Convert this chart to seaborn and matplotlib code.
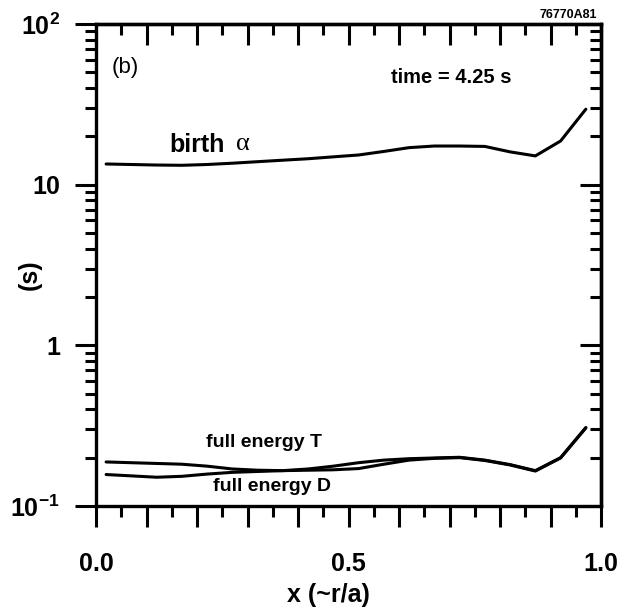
import numpy as np
import pandas as pd
import matplotlib
matplotlib.use("Agg")
import matplotlib.pyplot as plt
import seaborn as sns
from matplotlib.ticker import LogLocator, NullFormatter

# ---- data ----
x_pos = [0.02, 0.07, 0.12, 0.17, 0.22, 0.27, 0.32, 0.37, 0.42, 0.47,
         0.52, 0.57, 0.62, 0.67, 0.72, 0.77, 0.82, 0.87, 0.92, 0.97]
birth_alpha = [13.45, 13.35, 13.25, 13.2, 13.35, 13.6, 13.9, 14.2, 14.5, 14.9,
               15.3, 16.1, 17.0, 17.4, 17.4, 17.3, 16.0, 15.1, 18.7, 29.5]
full_energy_T = [0.188, 0.186, 0.184, 0.182, 0.177, 0.170, 0.167, 0.166, 0.170, 0.177,
                 0.186, 0.193, 0.197, 0.199, 0.201, 0.193, 0.181, 0.166, 0.200, 0.308]
full_energy_D = [0.157, 0.154, 0.151, 0.153, 0.158, 0.162, 0.164, 0.166, 0.167, 0.168,
                 0.171, 0.182, 0.193, 0.198, 0.200, 0.192, 0.180, 0.165, 0.199, 0.306]

x_major_ticks = [0.0, 0.1, 0.2, 0.3, 0.4, 0.5, 0.6, 0.7, 0.8, 0.9, 1.0]
x_minor_ticks = [0.05, 0.15, 0.25, 0.35, 0.45, 0.55, 0.65, 0.75, 0.85, 0.95]
x_labelled = {0.0: "0.0", 0.5: "0.5", 1.0: "1.0"}
y_major_ticks = [0.1, 1, 10, 100]
y_tick_labels = ["10$^{-1}$", "1", "10", "10$^{2}$"]

# ---- style ----
sns.set_style("white")
plt.rcParams["font.family"] = ["Liberation Sans", "DejaVu Sans"]
plt.rcParams["font.weight"] = "bold"
plt.rcParams["mathtext.fontset"] = "custom"
plt.rcParams["mathtext.rm"] = "Liberation Sans:bold"
plt.rcParams["mathtext.it"] = "Liberation Sans:bold"
plt.rcParams["mathtext.bf"] = "Liberation Sans:bold"
plt.rcParams["mathtext.default"] = "rm"
for k in ["text.color", "axes.labelcolor", "xtick.color", "ytick.color", "axes.edgecolor"]:
    plt.rcParams[k] = "black"

W, H = 633, 613
fig = plt.figure(figsize=(W / 100, H / 100), dpi=100)
ax = fig.add_axes([96 / W, 1 - 506 / H, 505 / W, 482 / H])

df = pd.DataFrame({"x": x_pos, "birth": birth_alpha, "T": full_energy_T, "D": full_energy_D})
for col in ["birth", "T", "D"]:
    sns.lineplot(data=df, x="x", y=col, ax=ax, color="black", lw=2.2)

ax.set_yscale("log")
ax.set_xlim(0, 1)
ax.set_ylim(0.1, 100)

lw_axis = 2.4
for s in ax.spines.values():
    s.set_linewidth(lw_axis)
    s.set_color("black")

ax.set_xticks(x_major_ticks)
ax.set_xticklabels([x_labelled.get(round(t, 2), "") for t in x_major_ticks])
ax.set_xticks(x_minor_ticks, minor=True)
ax.set_yticks(y_major_ticks)
ax.set_yticklabels(y_tick_labels)
ax.yaxis.set_minor_locator(LogLocator(base=10, subs=range(2, 10)))
ax.yaxis.set_minor_formatter(NullFormatter())

ax.tick_params(which="both", top=False, right=False, bottom=True, left=True,
               direction="out", width=2.2, color="black", labelcolor="black")
ax.tick_params(which="major", length=15)
ax.tick_params(which="minor", length=8)
ax.tick_params(axis="x", which="major", pad=18, labelsize=18)
ax.tick_params(axis="y", which="major", pad=11, labelsize=18)

# top / right: ticks pointing into the plot
secx = ax.secondary_xaxis("top")
secx.set_xticks(x_major_ticks)
secx.set_xticks(x_minor_ticks, minor=True)
secx.set_xticklabels([])
secx.tick_params(which="both", top=True, direction="in", width=2.2, color="black")
secx.tick_params(which="major", length=15)
secx.tick_params(which="minor", length=8)
secx.spines["top"].set_linewidth(lw_axis)

secy = ax.secondary_yaxis("right")
secy.set_yticks(y_major_ticks)
secy.yaxis.set_minor_locator(LogLocator(base=10, subs=range(2, 10)))
secy.yaxis.set_minor_formatter(NullFormatter())
secy.set_yticklabels([])
secy.tick_params(which="both", right=True, direction="in", width=2.2, color="black")
secy.tick_params(which="major", length=15)
secy.tick_params(which="minor", length=8)
secy.spines["right"].set_linewidth(lw_axis)

ax.set_xlabel("x (~r/a)", fontsize=18, fontweight="bold")
ax.xaxis.set_label_coords(0.461, -0.16)
ax.set_ylabel("(s)", fontsize=18, fontweight="bold")
ax.yaxis.set_label_coords(-0.107, 0.479)

ax.text(0.057, 0.909, "(b)", transform=ax.transAxes, ha="center", va="center",
        fontsize=16, fontweight="normal")
ax.text(0.703, 0.8776, "time = 4.25 s", transform=ax.transAxes, ha="center",
        va="baseline", fontsize=14.5, fontweight="bold")
ax.text(0.1446, 0.734, "birth", transform=ax.transAxes, ha="left", va="baseline",
        fontsize=18, fontweight="bold")
ax.text(0.278, 0.739, "α", transform=ax.transAxes, ha="left", va="baseline",
        fontsize=19, fontweight="normal", family=["Liberation Serif", "DejaVu Serif"])
ax.text(0.333, 0.131, "full energy T", transform=ax.transAxes, ha="center",
        va="center", fontsize=14, fontweight="bold")
ax.text(0.349, 0.0405, "full energy D", transform=ax.transAxes, ha="center",
        va="center", fontsize=14, fontweight="bold")
fig.text(597 / W, 1 - 18 / H, "76770A81", ha="right", va="baseline",
         fontsize=9, fontweight="bold")

fig.savefig("out.png", dpi=100)
